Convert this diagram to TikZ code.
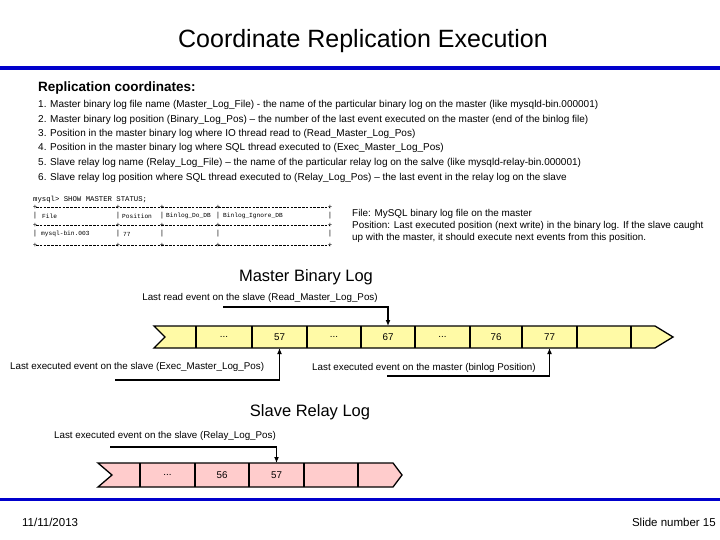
\documentclass[tikz,border=0pt]{standalone}
\usepackage{fontspec}
\setmainfont{Liberation Sans}
\newfontfamily\tmono{Liberation Mono}
\begin{document}
\begin{tikzpicture}[x=1pt,y=-1pt,
  txt/.style={inner sep=0pt,anchor=west,font=\fontsize{10}{12}\selectfont},
  tb/.style={inner sep=0pt,font=\tmono\fontsize{7.3}{8}\selectfont},
  tbs/.style={inner sep=0pt,anchor=west,font=\tmono\fontsize{6.2}{8}\selectfont},
  mcell/.style={fill=yellow!35!white,draw=black,line width=1.3pt},
  rcell/.style={fill=red!20!white,draw=black,line width=1.3pt},
  lbl/.style={inner sep=0pt,font=\fontsize{9.8}{11}\selectfont},
  arr/.style={-{Latex[length=6pt,width=5pt]},line width=1.3pt}]
\usetikzlibrary{arrows.meta}
\useasboundingbox (0,0) rectangle (720,540);
\fill[white] (0,0) rectangle (720,540);
\node[inner sep=0pt,font=\fontsize{25}{28}\selectfont] (title) at (363,41) {Coordinate Replication Execution};
\fill[blue!80!black] (0,66.5) rectangle (720,70);
\fill[blue!80!black] (0,497.5) rectangle (720,501);
\node[txt,font=\bfseries\fontsize{13.5}{15}\selectfont] (rc) at (38,88) {Replication coordinates:};
\node[txt] (l1) at (38,105) {1. Master binary log file name (Master\_Log\_File) - the name of the particular binary log on the master (like mysqld-bin.000001)};
\node[txt] (l2) at (38,120) {2. Master binary log position (Binary\_Log\_Pos) -- the number of the last event executed on the master (end of the binlog file)};
\node[txt] (l3) at (38,134) {3. Position in the master binary log where IO thread read to (Read\_Master\_Log\_Pos)};
\node[txt] (l4) at (38,148) {4. Position in the master binary log where SQL thread executed to (Exec\_Master\_Log\_Pos)};
\node[txt] (l5) at (38,163) {5. Slave relay log name (Relay\_Log\_File) -- the name of the particular relay log on the salve (like mysqld-relay-bin.000001)};
\node[txt] (l6) at (38,178) {6. Slave relay log position where SQL thread executed to (Relay\_Log\_Pos) -- the last event in the relay log on the slave};
% table
\node[tb,anchor=west] (q) at (33,200) {mysql> SHOW MASTER STATUS;};
\foreach \y in {207,225,245}{
  \draw[line width=0.5pt,dash pattern=on 2.6pt off 1.2pt] (36,\y) -- (330,\y);
  \foreach \x in {35,118,162,218,330}{\node[tb] at (\x,\y) {+};}
}
\foreach \y in {216,234}{\foreach \x in {35,118,162,218,330}{\node[tb] at (\x,\y) {|};}}
\node[tbs] (tf) at (42,216) {File};
\node[tbs] (tp) at (122,216) {Position};
\node[tbs] (td) at (166,216) {Binlog\_Do\_DB};
\node[tbs] (ti) at (223,216) {Binlog\_Ignore\_DB};
\node[tbs] (tv) at (41,234) {mysql-bin.003};
\node[tbs] (tn) at (123,234) {77};
\node[txt,font=\fontsize{9.9}{12}\selectfont,align=left,anchor=north west] (ft) at (352,209) {File: MySQL binary log file on the master\\Position: Last executed position (next write) in the binary log. If the slave caught\\up with the master, it should execute next events from this position.};
% master binary log
\node[inner sep=0pt,font=\fontsize{16.5}{18}\selectfont] (mbl) at (306,277) {Master Binary Log};
\path[mcell] (154,326) -- (655,326) -- (673,337) -- (655,348) -- (154,348) -- (165,337) -- cycle;
\foreach \x in {196,252,307,361,415,470,522,577,631}{\draw[line width=1.3pt] (\x,326) -- (\x,348);}
\foreach \a/\b/\t [count=\i] in {196/252/{...},252/307/57,307/361/{...},361/415/67,415/470/{...},470/522/76,522/577/77}{
  \node[lbl] (m\i) at ({(\a+\b)/2},337) {\t};}
\node[lbl] (rd) at (260,298) {Last read event on the slave (Read\_Master\_Log\_Pos)};
\coordinate (rdc) at (223,307);
\draw[arr] (rdc) -| (m4.center |- 0,326);
\node[lbl,anchor=west] (ex) at (10,367) {Last executed event on the slave (Exec\_Master\_Log\_Pos)};
\coordinate (exc) at (115,380);
\draw[arr] (exc) -| (m2.center |- 0,348);
\node[lbl,anchor=west] (bp) at (312,368) {Last executed event on the master (binlog Position)};
\coordinate (bpc) at (387,376);
\draw[arr] (bpc) -| (m7.center |- 0,348);
% relay log
\node[inner sep=0pt,font=\fontsize{16.5}{18}\selectfont] (srl) at (310,412) {Slave Relay Log};
\path[rcell] (98,463) -- (393,463) -- (402,475) -- (393,487) -- (98,487) -- (112,475) -- cycle;
\foreach \x in {140,195,249,304,358}{\draw[line width=1.3pt] (\x,463) -- (\x,487);}
\foreach \a/\b/\t [count=\i] in {140/195/{...},195/249/56,249/304/57}{
  \node[lbl] (r\i) at ({(\a+\b)/2},475) {\t};}
\node[lbl] (rl) at (165,436) {Last executed event on the slave (Relay\_Log\_Pos)};
\coordinate (rlc) at (110,447);
\draw[arr] (rlc) -| (r3.center |- 0,463);
\node[lbl,anchor=west,font=\fontsize{11.5}{13}\selectfont] (date) at (22,522) {11/11/2013};
\node[lbl,anchor=east,font=\fontsize{11.5}{13}\selectfont] (sn) at (716,522) {Slide number 15};
\end{tikzpicture}
\end{document}
